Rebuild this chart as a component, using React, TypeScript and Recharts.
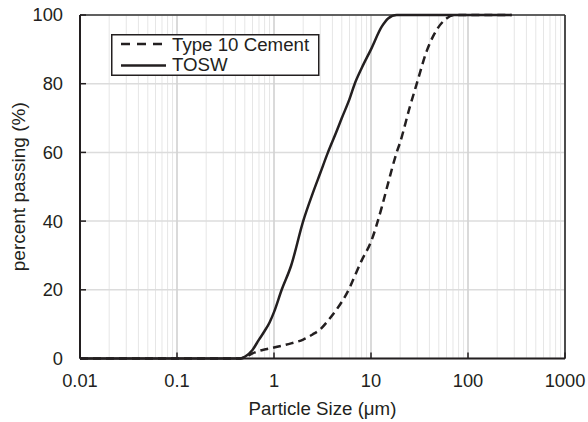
import { CartesianGrid, Legend, Line, LineChart, ReferenceLine, XAxis, YAxis } from "recharts";

// particle sizes (μm) where the curves were read
const sizes = [
  0.01, 0.1, 0.3, 0.45, 0.5, 0.6, 0.7, 0.8, 0.9, 1, 1.2, 1.5, 2, 2.5, 3, 3.6, 4.4, 5, 6, 6.8,
  8, 10, 12.9, 15, 18.4, 20, 25, 30, 37.5, 45, 60, 73.5, 100, 200, 282,
];

const cement = [
  0, 0, 0, 0, 0.3, 1.5, 2.2, 2.6, 2.9, 3.2, 3.7, 4.4, 5.5, 7, 8.5, 11, 14.2, 16.5, 20.5, 24,
  28.5, 34, 44, 51, 60, 63, 73, 80.5, 89.5, 94.5, 99, 100, 100, 100, 100,
];

const tosw = [
  0, 0, 0, 0, 0.5, 2.5, 5.5, 8, 10.5, 13.5, 20, 27, 40, 48, 54, 60, 66, 70, 75.5, 80,
  84.5, 90, 96.6, 99, 100, 100, 100, 100, 100, 100, 100, 100, 100, 100, 100,
];

const decades = [0.01, 0.1, 1, 10, 100, 1000];
const decadeLabels = ["0.01", "0.1", "1", "10", "100", "1000"];
const yTicks = [0, 20, 40, 60, 80, 100];

const data = sizes.map((s, i) => ({ size: s, cement: cement[i], tosw: tosw[i] }));

// minor log gridlines 1..9 per decade
const xTicks: number[] = [];
decades.forEach((d, i) => {
  if (i === decades.length - 1) {
    xTicks.push(d);
    return;
  }
  for (let k = 1; k <= 9; k++) xTicks.push(+(d * k).toPrecision(3));
});

const FONT = "'Liberation Sans', Arial, sans-serif";
const INK = "#231f20";

function XTick(props: any) {
  const { x, y, payload } = props;
  const idx = decades.indexOf(payload.value);
  if (idx < 0) return null;
  return (
    <g>
      <line x1={x} x2={x} y1={y - 16} y2={y - 22} stroke={INK} strokeWidth={1.5} />
      <text x={x} y={y} dy="0.71em" textAnchor="middle" fontSize={18.3} fontFamily={FONT} fill={INK}>
        {decadeLabels[idx]}
      </text>
    </g>
  );
}

function YTick(props: any) {
  const { x, y, payload } = props;
  return (
    <g>
      <line x1={x + 17} x2={x + 23} y1={y} y2={y} stroke={INK} strokeWidth={1.5} />
      <text x={x} y={y} dy="0.355em" textAnchor="end" fontSize={18.3} fontFamily={FONT} fill={INK}>
        {payload.value}
      </text>
    </g>
  );
}

function LegendBox() {
  return (
    <svg width={210} height={43} style={{ display: "block" }}>
      <rect x={0.75} y={0.75} width={207} height={40.5} fill="#fff" stroke={INK} strokeWidth={1.5} />
      <line x1={10} x2={55} y1={10} y2={10} stroke={INK} strokeWidth={2.5} strokeDasharray="9 7" />
      <text x={61} y={17} fontSize={18.7} fontFamily={FONT} fill={INK}>Type 10 Cement</text>
      <line x1={10} x2={55} y1={31.5} y2={31.5} stroke={INK} strokeWidth={2.5} />
      <text x={61} y={36.7} fontSize={18.7} fontFamily={FONT} fill={INK}>TOSW</text>
    </svg>
  );
}

export default function App() {
  return (
    <div style={{ position: "absolute", left: 0, top: 0, background: "#fff" }}>
      <LineChart
        width={588}
        height={422}
        data={data}
        margin={{ top: 15, right: 23, bottom: 0, left: 0 }}
      >
        <CartesianGrid horizontal={false} stroke="#e6e6e6" strokeWidth={1} />
        <CartesianGrid vertical={false} stroke="#dcdcdc" strokeWidth={1.5} />
        {decades.map((d) => (
          <ReferenceLine key={d} x={d} stroke="#d2d2d2" strokeWidth={1.5} />
        ))}
        <ReferenceLine y={100} stroke="#333" strokeWidth={1.4} />
        <ReferenceLine x={1000} stroke="#333" strokeWidth={1.7} />
        <XAxis
          dataKey="size"
          type="number"
          scale="log"
          domain={[0.01, 1000]}
          allowDataOverflow
          ticks={xTicks}
          interval={0}
          height={63.5}
          tickLine={false}
          tickSize={0}
          tickMargin={16}
          tick={<XTick />}
          axisLine={{ stroke: INK, strokeWidth: 2 }}
          label={{
            value: "Particle Size (μm)",
            position: "insideBottom",
            offset: 7,
            fontSize: 18.7,
            fontFamily: FONT,
            fill: INK,
          }}
        />
        <YAxis
          type="number"
          domain={[0, 100]}
          ticks={yTicks}
          interval={0}
          width={80}
          tickLine={false}
          tickSize={0}
          tickMargin={17}
          tick={<YTick />}
          axisLine={{ stroke: INK, strokeWidth: 2 }}
          label={{
            value: "percent passing (%)",
            angle: -90,
            position: "insideLeft",
            offset: 18,
            fontSize: 19,
            fontFamily: FONT,
            fill: INK,
            style: { textAnchor: "middle" },
          }}
        />
        <Legend
          layout="horizontal"
          verticalAlign="middle"
          content={() => <LegendBox />}
          wrapperStyle={{ left: 111, top: 34, width: 210, height: 43 }}
        />
        <Line
          dataKey="cement"
          stroke={INK}
          strokeWidth={2.5}
          strokeDasharray="8 5"
          dot={false}
          type="monotone"
          isAnimationActive={false}
        />
        <Line
          dataKey="tosw"
          stroke={INK}
          strokeWidth={2.5}
          dot={false}
          type="monotone"
          isAnimationActive={false}
        />
      </LineChart>
    </div>
  );
}
